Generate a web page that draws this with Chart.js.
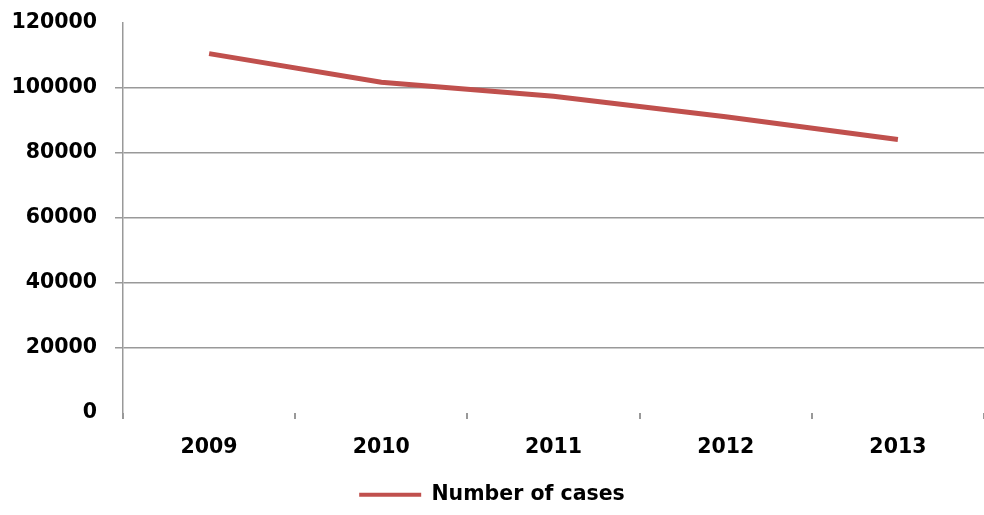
<!DOCTYPE html>
<html lang="en">
<head>
    <meta charset="UTF-8">
    <title>Number of cases</title>
    <style>
        body { margin: 0; background: #fff; }
        #wrap { width: 984px; height: 515px; }
    </style>
</head>
<body>
    <div id="wrap">
        <canvas id="myChart"></canvas>
    </div>
    <script src="https://cdn.jsdelivr.net/npm/chart.js"></script>
    <script>
        // values
        let v_years = ["2009", "2010", "2011", "2012", "2013"];
        let v_cases = [110600, 101800, 97500, 91200, 84200];
        let v_yTicks = [0, 20000, 40000, 60000, 80000, 100000, 120000];

        const v_red = "#C0504D";
        const v_gray = "#999999";
        const v_font = { family: "DejaVu Sans", size: 20.5, weight: "bold" };

        const ctx = document.getElementById('myChart');

        let myChart = new Chart(ctx, {
            type: 'line',
            data: {
                labels: v_years,
                datasets: [{
                    label: 'Number of cases',
                    data: v_cases,
                    borderColor: v_red,
                    backgroundColor: v_red,
                    borderWidth: 5,
                    pointRadius: 0,
                    tension: 0
                }]
            },
            options: {
                responsive: true,
                maintainAspectRatio: false,
                animation: false,
                layout: { padding: { top: 0, right: 0, left: 0, bottom: 0 } },
                plugins: {
                    tooltip: { enabled: false },
                    legend: {
                        position: 'bottom',
                        labels: {
                            color: '#000',
                            font: v_font,
                            boxWidth: 62,
                            boxHeight: 4,
                            padding: 9,
                            generateLabels: (chart) => {
                                let items = Chart.defaults.plugins.legend.labels.generateLabels(chart);
                                items.forEach(it => { it.lineWidth = 0; it.fillStyle = v_red; });
                                return items;
                            }
                        }
                    }
                },
                scales: {
                    x: {
                        offset: true,
                        border: { display: false },
                        grid: {
                            offset: true,
                            drawOnChartArea: false,
                            drawTicks: true,
                            tickLength: 6,
                            color: v_gray,
                            lineWidth: 2
                        },
                        ticks: { color: '#000', font: v_font, padding: 16 }
                    },
                    y: {
                        min: 0,
                        max: 120000,
                        afterBuildTicks: (axis) => {
                            axis.ticks = v_yTicks.map(v => ({ value: v }));
                        },
                        afterFit: (axis) => { axis.width = 123; },
                        border: { display: true, color: v_gray, width: 1.5 },
                        grid: {
                            color: (c) => (c.tick && (c.tick.value === 0 || c.tick.value === 120000)) ? 'rgba(0,0,0,0)' : v_gray,
                            lineWidth: 1.5,
                            tickLength: 8
                        },
                        ticks: {
                            color: '#000',
                            font: { family: "DejaVu Sans", size: 20.5, weight: "bold", lineHeight: 0.5 },
                            padding: 18,
                            callback: (v) => String(v)
                        }
                    }
                }
            }
        });
    </script>
</body>
</html>
